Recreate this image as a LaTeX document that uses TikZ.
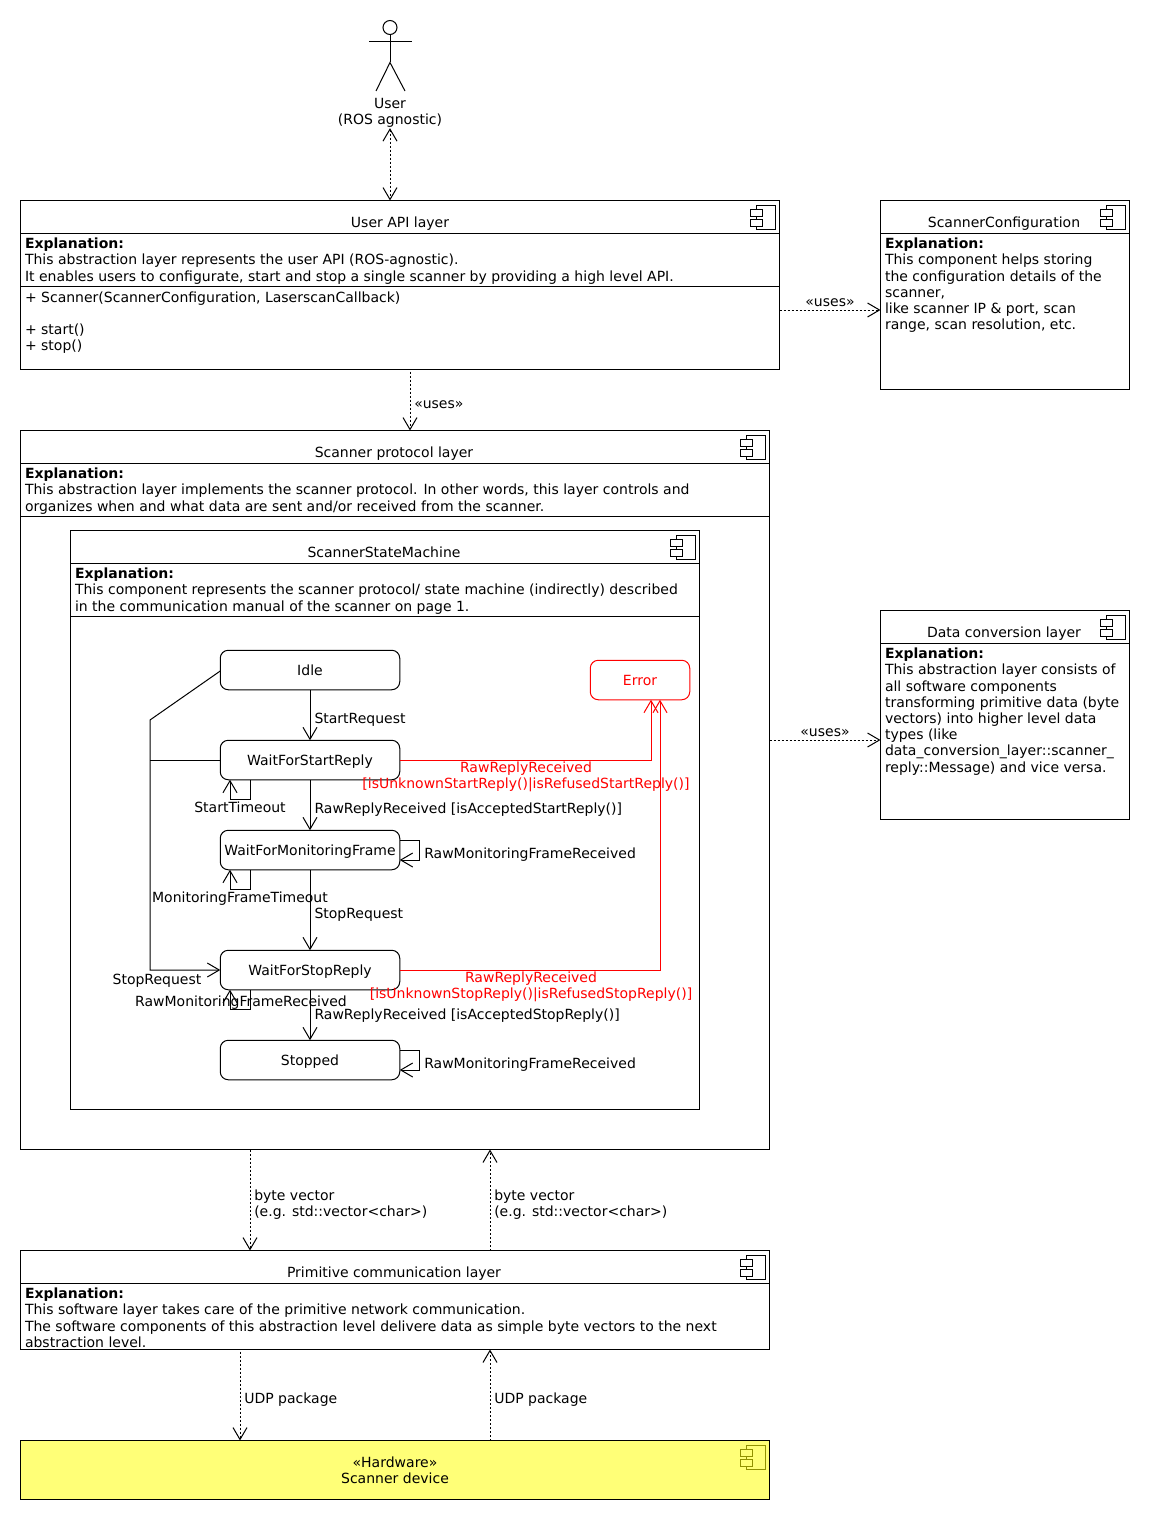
\documentclass[tikz,border=0pt]{standalone}
\usepackage{fontspec}
\setmainfont{DejaVu Sans}
\usepackage{xcolor}
\usepackage{tikz}
\usetikzlibrary{arrows.meta,positioning}
\definecolor{hwfill}{HTML}{FFFF77}
\definecolor{hwline}{HTML}{919100}

\begin{document}
\begin{tikzpicture}[
  x=1pt,y=-1pt,
  font=\fontsize{14}{16.2}\selectfont,
  line width=1pt,
  >={Straight Barb[length=12pt,width=14pt,line width=1pt]},
  comp/.style={draw,rectangle,anchor=north west,inner sep=0pt,outer sep=0pt},
  state/.style={draw,rectangle,rounded corners=8pt,minimum width=179.5pt,minimum height=39.5pt,inner sep=0pt,outer sep=0pt,text height=12pt,text depth=2pt},
  note/.style={anchor=north west,align=left,inner sep=0pt,outer sep=0pt},
  lbl/.style={anchor=west,align=left,inner sep=0pt},
  redlbl/.style={align=center,inner sep=0pt,text=red},
  dep/.style={->,line width=0.5pt,dash pattern=on 2pt off 2pt},
  trans/.style={->},
  fail/.style={->,red}
]
  \useasboundingbox (0,0) rectangle (1150,1520);

  % outer boxes
  \node[comp,minimum width=759pt,minimum height=169pt] (api) at (20.5,200.5) {};
  \node[comp,minimum width=249pt,minimum height=189pt] (cfg) at (880.5,200.5) {};
  \node[comp,minimum width=749pt,minimum height=719pt] (proto) at (20.5,430.5) {};
  \node[comp,minimum width=629pt,minimum height=579pt] (fsm) at (70.5,530.5) {};
  \node[comp,minimum width=249pt,minimum height=209pt] (conv) at (880.5,610.5) {};
  \node[comp,minimum width=749pt,minimum height=99pt] (prim) at (20.5,1250.5) {};
  \node[comp,fill=hwfill,minimum width=749pt,minimum height=59pt] (hw) at (20.5,1440.5) {};
  \foreach \c/\d in {api/33,api/86,cfg/33,proto/33,proto/86,fsm/33,fsm/86,conv/33,prim/33}{
    \draw ([yshift=-\d pt]\c.north west) -- ([yshift=-\d pt]\c.north east);
  }
  \foreach \c/\col/\bg in {api/black/white,cfg/black/white,proto/black/white,fsm/black/white,conv/black/white,prim/black/white,hw/hwline/hwfill}{
    \draw[\col] ([shift={(-23.2pt,-5pt)}]\c.north east) rectangle ([shift={(-3.8pt,-29pt)}]\c.north east);
    \draw[\col,fill=\bg] ([shift={(-29.2pt,-9pt)}]\c.north east) rectangle ([shift={(-16.8pt,-15.5pt)}]\c.north east);
    \draw[\col,fill=\bg] ([shift={(-29.2pt,-19pt)}]\c.north east) rectangle ([shift={(-16.8pt,-25.5pt)}]\c.north east);
  }

  % titles
  \node (apititle) at (400,224) {User API layer};
  \node (cfgtitle) at (1004,224) {ScannerConfiguration};
  \node (prototitle) at (394,454) {Scanner protocol layer};
  \node (fsmtitle) at (384,552) {ScannerStateMachine};
  \node (convtitle) at (1004,634) {Data conversion layer};
  \node (primtitle) at (394,1274) {Primitive communication layer};
  \node[align=center,inner sep=0pt] (hwtitle) at (395,1470) {«Hardware»\\Scanner device};

  % explanations
  \node[note] (apitext) at (25,238) {\textbf{Explanation:}\\This abstraction layer represents the user API (ROS-agnostic).\\It enables users to configurate, start and stop a single scanner by providing a high level API.};
  \node[note] (apimethods) at (25,292) {+ Scanner(ScannerConfiguration, LaserscanCallback)\\[15.8pt]+ start()\\+ stop()};
  \node[note] (cfgtext) at (885,238) {\textbf{Explanation:}\\This component helps storing\\the configuration details of the\\scanner,\\like scanner IP \& port, scan\\range, scan resolution, etc.};
  \node[note] (prototext) at (25,468) {\textbf{Explanation:}\\This abstraction layer implements the scanner protocol. In other words, this layer controls and\\organizes when and what data are sent and/or received from the scanner.};
  \node[note] (fsmtext) at (75,568) {\textbf{Explanation:}\\This component represents the scanner protocol/ state machine (indirectly) described\\in the communication manual of the scanner on page 1.};
  \node[note] (convtext) at (885,648) {\textbf{Explanation:}\\This abstraction layer consists of\\all software components\\transforming primitive data (byte\\vectors) into higher level data\\types (like\\data\_conversion\_layer::scanner\_\\reply::Message) and vice versa.};
  \node[note] (primtext) at (25,1288) {\textbf{Explanation:}\\This software layer takes care of the primitive network communication.\\The software components of this abstraction level delivere data as simple byte vectors to the next\\abstraction level.};

  % actor
  \node[draw,circle,minimum size=14pt,inner sep=0pt] (head) at (390,27.5) {};
  \coordinate (hip) at (390,62.5);
  \draw (head.south) -- (hip);
  \draw (369,41.5) -- (412,41.5);
  \draw (376,91) -- (hip) -- (405,91);
  \node[align=center,inner sep=0pt] (user) at (390,113) {User\\(ROS agnostic)};

  % states
  \node[state] (idle) at (310,670) {Idle};
  \node[state,below=50.5pt of idle] (startreply) {WaitForStartReply};
  \node[state,below=50.5pt of startreply] (monframe) {WaitForMonitoringFrame};
  \node[state,below=80.5pt of monframe] (stopreply) {WaitForStopReply};
  \node[state,below=50.5pt of stopreply] (stopped) {Stopped};
  \node[state,draw=red,text=red,minimum width=99.5pt] (error) at (640,680) {Error};

  % layer connectors
  \draw[dep,<->] (user.south) -- (user.south |- api.north);
  \draw[dep] ([xshift=10pt,yshift=-2pt]api.south) -- ([xshift=15pt]proto.north) node[pos=0.55,lbl,right=4pt,yshift=-1pt] {«uses»};
  \draw[dep] (api.east |- 0,310) -- (cfg.west |- 0,310) node[midway,above=3pt,inner sep=0pt] {«uses»};
  \draw[dep] (proto.east |- 0,740) -- (conv.west |- 0,740) node[midway,above=3pt,inner sep=0pt] {«uses»};
  \draw[dep] ([xshift=-145pt]proto.south) -- ([xshift=-145pt]prim.north) node[midway,lbl,right=4pt,yshift=-4.5pt] {byte vector\\(e.g. std::vector<char>)};
  \draw[dep] ([xshift=95pt]prim.north) -- ([xshift=95pt]proto.south) node[midway,lbl,right=4pt,yshift=-4.5pt] {byte vector\\(e.g. std::vector<char>)};
  \draw[dep] ([xshift=-155pt,yshift=-2pt]prim.south) -- ([xshift=-155pt]hw.north) node[midway,lbl,right=4pt,yshift=-4pt] {UDP package};
  \draw[dep] ([xshift=95pt]hw.north) -- ([xshift=95pt]prim.south) node[midway,lbl,right=4pt,yshift=-5pt] {UDP package};

  % transitions
  \foreach \a/\b/\txt/\ypos in {idle/startreply/StartRequest/720,startreply/monframe/{RawReplyReceived [isAcceptedStartReply()]}/810,monframe/stopreply/StopRequest/915,stopreply/stopped/{RawReplyReceived [isAcceptedStopReply()]}/1016}{
    \draw[trans] (\a) -- (\b);
    \node[lbl] (\a lbl) at (314,\ypos) {\txt};
  }
  \draw[trans] ([yshift=-1pt]idle.west) -- (150,720) -- (150,970) -- (stopreply.west);
  \draw (startreply.west) -- (150,760);
  \node[inner sep=0pt] (stoplbl) at (157,981) {StopRequest};

  % self loops below
  \foreach \s/\txt/\xpos/\ypos in {startreply/StartTimeout/240/807,monframe/MonitoringFrameTimeout/240/897,stopreply/RawMonitoringFrameReceived/241/1001}{
    \draw[trans] ([xshift=-60pt]\s.south) -- ++(0,20) -- ++(-20,0) -- ([xshift=-80pt]\s.south);
    \node[inner sep=0pt,text depth=0pt] (\s loop) at (\xpos,\ypos) {\txt};
  }
  % self loops right
  \foreach \s in {monframe,stopped}{
    \draw[trans] ([yshift=10pt]\s.east) -- ++(20,0) -- ++(0,20) -- ([yshift=-10pt]\s.east);
    \node[lbl] (\s loop) at ([shift={(24pt,-5pt)}]\s.east) {RawMonitoringFrameReceived};
  }

  % error transitions
  \draw[fail] (startreply.east) -- (651,760) -- (error.south -| 651,0);
  \draw[fail] (stopreply.east) -- (660,970) -- (error.south -| 660,0);
  \node[redlbl] (startfail) at (526,777) {RawReplyReceived\\{[isUnknownStartReply()|isRefusedStartReply()]}};
  \node[redlbl] (stopfail) at (531,987) {RawReplyReceived\\{[isUnknownStopReply()|isRefusedStopReply()]}};
\end{tikzpicture}
\end{document}
